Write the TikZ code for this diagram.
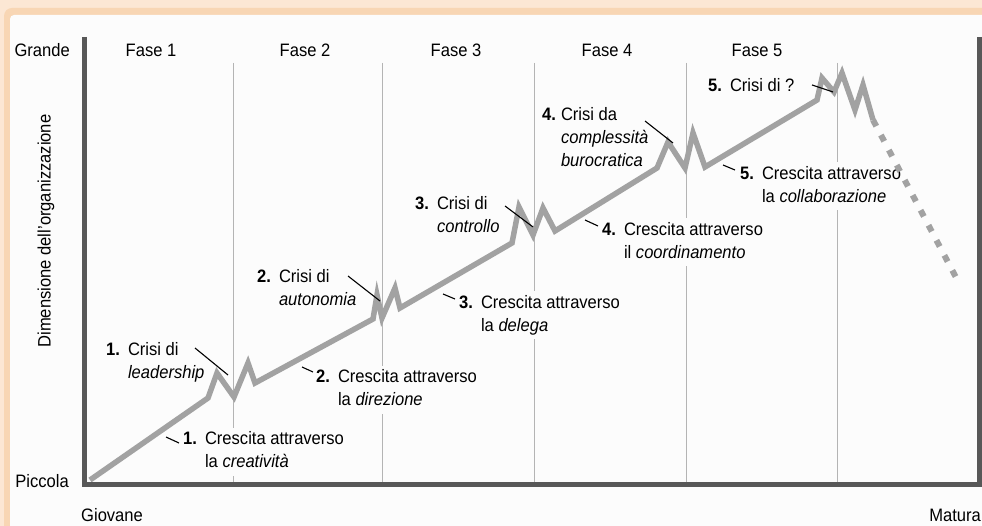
\documentclass[tikz,border=0pt]{standalone}
\usepackage{fontspec}
\setmainfont{Liberation Sans}[FakeStretch=0.92]
\definecolor{bgc}{HTML}{FCFCFC}
\definecolor{peachA}{HTML}{FCE7D4}
\definecolor{peachB}{HTML}{F8D6B4}
\definecolor{axisc}{HTML}{585858}
\definecolor{gridc}{HTML}{B4B4B4}
\definecolor{curvec}{HTML}{A2A2A2}
\begin{document}
\begin{tikzpicture}[x=1pt,y=-1pt,
  txt/.style={font=\fontsize{18}{23}\selectfont, inner sep=1pt},
  lbl/.style={txt, fill=bgc, anchor=west},
  axisline/.style={draw=axisc, line width=5.5pt},
  gridline/.style={draw=gridc, line width=1pt},
  curve/.style={draw=curvec, line width=5.5pt, line join=miter, miter limit=6},
  curvedash/.style={draw=curvec, line width=6pt, dash pattern=on 7pt off 10pt},
  leader/.style={draw=black, line width=1.1pt}]
\useasboundingbox (0,0) rectangle (982,526);
% frame
\fill[peachA] (0,0) rectangle (982,526);
\fill[peachB, rounded corners=8pt] (4,8) rectangle (1000,545);
\fill[bgc, rounded corners=4pt] (10,15) rectangle (1000,545);
% grid lines
\foreach \gx in {233,382,534,686,837}
  \draw[gridline] (\gx,63) -- (\gx,482);
% phase labels
\node[txt] (f1) at (151,50) {Fase 1};
\node[txt] (f2) at (305,50) {Fase 2};
\node[txt] (f3) at (456,50) {Fase 3};
\node[txt] (f4) at (607,50) {Fase 4};
\node[txt] (f5) at (757,50) {Fase 5};
% axis labels
\node[txt, anchor=east] (grande) at (71,50) {Grande};
\node[txt, anchor=east] (piccola) at (70,481) {Piccola};
\node[txt, anchor=west] (giovane) at (80,515.5) {Giovane};
\node[txt, anchor=east] (matura) at (982,515.5) {Matura};
\node[txt, rotate=90] (dim) at (46,231) {Dimensione dell'organizzazione};
% labels
\node[lbl] (c1) at (105,362.5) {\begin{tabular}{@{}l@{\hspace{8pt}}l@{}}\textbf{1.}&Crisi di\\&\textit{leadership}\end{tabular}};
\node[lbl] (g1) at (182,451.5) {\begin{tabular}{@{}l@{\hspace{8pt}}l@{}}\textbf{1.}&Crescita attraverso\\&la \textit{creatività}\end{tabular}};
\node[lbl] (c2) at (256,289.5) {\begin{tabular}{@{}l@{\hspace{8pt}}l@{}}\textbf{2.}&Crisi di\\&\textit{autonomia}\end{tabular}};
\node[lbl] (g2) at (315,389.5) {\begin{tabular}{@{}l@{\hspace{8pt}}l@{}}\textbf{2.}&Crescita attraverso\\&la \textit{direzione}\end{tabular}};
\node[lbl] (c3) at (414,216) {\begin{tabular}{@{}l@{\hspace{8pt}}l@{}}\textbf{3.}&Crisi di\\&\textit{controllo}\end{tabular}};
\node[lbl] (g3) at (458,315.5) {\begin{tabular}{@{}l@{\hspace{8pt}}l@{}}\textbf{3.}&Crescita attraverso\\&la \textit{delega}\end{tabular}};
\node[lbl] (c4) at (541,138.5) {\begin{tabular}{@{}l@{\hspace{5pt}}l@{}}\textbf{4.}&Crisi da\\&\textit{complessità}\\&\textit{burocratica}\end{tabular}};
\node[lbl] (g4) at (601,242) {\begin{tabular}{@{}l@{\hspace{8pt}}l@{}}\textbf{4.}&Crescita attraverso\\&il \textit{coordinamento}\end{tabular}};
\node[lbl] (c5) at (707,87) {\begin{tabular}{@{}l@{\hspace{8pt}}l@{}}\textbf{5.}&Crisi di ?\end{tabular}};
\node[lbl] (g5) at (739,186.5) {\begin{tabular}{@{}l@{\hspace{8pt}}l@{}}\textbf{5.}&Crescita attraverso\\&la \textit{collaborazione}\end{tabular}};
% curve
\draw[curve] (90,480) -- (208,398) -- (217,373) -- (234,397) -- (248,363) -- (255,383)
  -- (373,319) -- (377,295) -- (382,318) -- (395,288) -- (400,308)
  -- (512,243) -- (519,207) -- (533,235) -- (543,208) -- (555,231)
  -- (657,168) -- (668,142) -- (685,168) -- (693,133) -- (705,167)
  -- (817,100) -- (822,78) -- (834,92) -- (842,73) -- (855,110) -- (863,85) -- (873,120);
\draw[curvedash] (873,120) -- (960,285);
% leaders
\coordinate (l1a) at (195,348); \coordinate (l1b) at (228,375);
\coordinate (t1a) at (166,437); \coordinate (t1b) at (179,443);
\coordinate (l2a) at (348,276); \coordinate (l2b) at (380,301);
\coordinate (t2a) at (302,367); \coordinate (t2b) at (313,372);
\coordinate (l3a) at (505,206); \coordinate (l3b) at (533,227);
\coordinate (t3a) at (443,294); \coordinate (t3b) at (455,299);
\coordinate (l4a) at (645,121); \coordinate (l4b) at (673,143);
\coordinate (t4a) at (585,220); \coordinate (t4b) at (598,226);
\coordinate (t5a) at (723,165); \coordinate (t5b) at (735,170);
\coordinate (l5a) at (812,85); \coordinate (l5b) at (833,92);
\foreach \p in {l1,t1,l2,t2,l3,t3,l4,t4,t5,l5}
  \draw[leader] (\p a) -- (\p b);
% axes
\draw[axisline] (84.5,37) -- (84.5,484.5) -- (985,484.5);
\draw[axisline] (979.5,37) -- (979.5,484.5);
\end{tikzpicture}
\end{document}
